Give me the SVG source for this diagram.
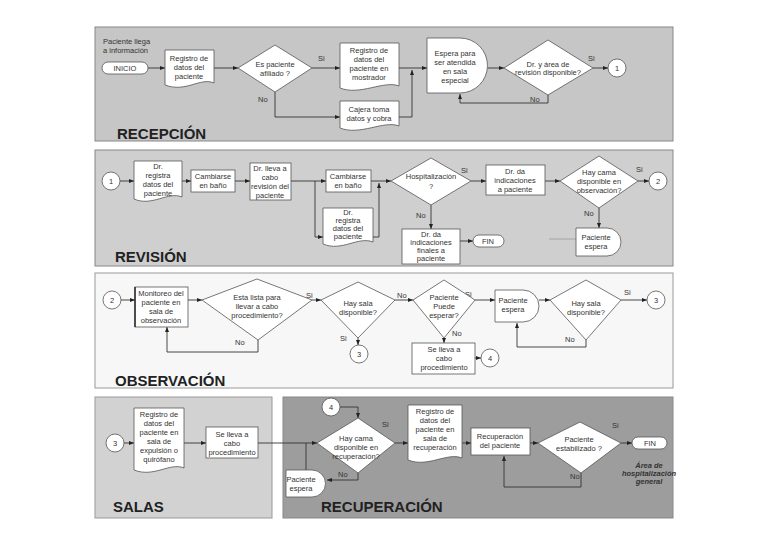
<svg xmlns="http://www.w3.org/2000/svg" width="768" height="543" viewBox="0 0 768 543">
<style>
.s{fill:#fff;stroke:#555;stroke-width:0.8}
.t{font-family:'Liberation Sans',Arial,sans-serif;font-size:7.5px;fill:#333;text-anchor:middle}
.l{font-family:'Liberation Sans',Arial,sans-serif;font-size:7.5px;fill:#333}
.h{font-family:'Liberation Sans',Arial,sans-serif;font-size:15px;font-weight:bold;fill:#222}
.c{fill:none;stroke:#333;stroke-width:0.9}
</style>
<defs><marker id="a" viewBox="0 0 10 10" refX="10" refY="5" markerWidth="6" markerHeight="6" orient="auto"><path d="M0,1 L10,5 L0,9 Z" fill="#222"/></marker></defs>
<rect width="768" height="543" fill="#fff"/>
<g id="bands">
<rect x="95" y="27" width="578" height="114" fill="#c6c6c6" stroke="#888"/>
<rect x="95" y="150" width="578" height="116" fill="#cfcfcf" stroke="#888"/>
<rect x="95" y="273" width="578" height="115" fill="#f7f7f7" stroke="#999"/>
<rect x="95" y="397" width="177" height="121" fill="#d2d2d2" stroke="#999"/>
<rect x="283" y="397" width="390" height="121" fill="#9d9d9d" stroke="#888"/>
<text class="h" x="117" y="139">RECEPCIÓN</text>
<text class="h" x="115" y="262">REVISIÓN</text>
<text class="h" x="115" y="386">OBSERVACIÓN</text>
<text class="h" x="113" y="512">SALAS</text>
<text class="h" x="321" y="512">RECUPERACIÓN</text>
</g>
<g id="connectors">
<path class="c" marker-end="url(#a)" d="M148,68H165"/>
<path class="c" marker-end="url(#a)" d="M214,68H238"/>
<path class="c" marker-end="url(#a)" d="M312,68H340"/>
<path class="c" marker-end="url(#a)" d="M275,92V117H340"/>
<path class="c" d="M399,68H412"/>
<path class="c" marker-end="url(#a)" d="M399,117H412V70"/>
<path class="c" marker-end="url(#a)" d="M412,68H427"/>
<path class="c" marker-end="url(#a)" d="M488,68H504"/>
<path class="c" marker-end="url(#a)" d="M593,68H608"/>
<path class="c" marker-end="url(#a)" d="M548,95V103H460V94"/>
<path class="c" marker-end="url(#a)" d="M120,181H134"/>
<path class="c" marker-end="url(#a)" d="M182,181H191"/>
<path class="c" marker-end="url(#a)" d="M235,181H250"/>
<path class="c" marker-end="url(#a)" d="M291,181H326"/>
<path class="c" marker-end="url(#a)" d="M315,181V237H323"/>
<path class="c" d="M371,181H379"/>
<path class="c" marker-end="url(#a)" d="M373,237H379V183"/>
<path class="c" marker-end="url(#a)" d="M379,181H391"/>
<path class="c" marker-end="url(#a)" d="M471,181H486"/>
<path class="c" marker-end="url(#a)" d="M545,181H560"/>
<path class="c" marker-end="url(#a)" d="M638,181H649"/>
<path class="c" marker-end="url(#a)" d="M599,208V228"/>
<path d="M549,239H576" stroke="#999" stroke-width="0.8"/>
<path class="c" marker-end="url(#a)" d="M431,205V229"/>
<path class="c" marker-end="url(#a)" d="M460,241H473"/>
<path class="c" marker-end="url(#a)" d="M121,300H135"/>
<path class="c" marker-end="url(#a)" d="M188,300H202"/>
<path class="c" marker-end="url(#a)" d="M312,300H321"/>
<path class="c" marker-end="url(#a)" d="M258,340V352H167V327"/>
<path class="c" marker-end="url(#a)" d="M358,338V345"/>
<path class="c" marker-end="url(#a)" d="M395,300H413"/>
<path class="c" marker-end="url(#a)" d="M475,300H495"/>
<path class="c" marker-end="url(#a)" d="M539,300H550"/>
<path class="c" marker-end="url(#a)" d="M621,300H647"/>
<path class="c" marker-end="url(#a)" d="M586,340V347H517V323"/>
<path class="c" marker-end="url(#a)" d="M444,338V343"/>
<path class="c" marker-end="url(#a)" d="M475,358H481"/>
<path class="c" marker-end="url(#a)" d="M124,443H134"/>
<path class="c" marker-end="url(#a)" d="M184,443H206"/>
<path class="c" marker-end="url(#a)" d="M258,443H317"/>
<path class="c" marker-end="url(#a)" d="M340,407H358V418"/>
<path class="c" marker-end="url(#a)" d="M395,443H408"/>
<path class="c" marker-end="url(#a)" d="M358,473V480H327"/>
<path class="c" d="M306,470V443"/>
<path class="c" marker-end="url(#a)" d="M462,443H471"/>
<path class="c" marker-end="url(#a)" d="M530,443H538"/>
<path class="c" marker-end="url(#a)" d="M621,443H632"/>
<path class="c" marker-end="url(#a)" d="M581,473V487H504V456"/>
</g>
<g id="labels">
<text class="l" x="103" y="44">Paciente llega</text><text class="l" x="103" y="53">a información</text>
<text class="l" x="318" y="61">Si</text><text class="l" x="258" y="102">No</text>
<text class="l" x="588" y="61">Si</text><text class="l" x="530" y="102">No</text>
<text class="l" x="461" y="173">Si</text><text class="l" x="416" y="218">No</text>
<text class="l" x="636" y="172">Si</text><text class="l" x="584" y="216">No</text>
<text class="l" x="306" y="298">Si</text><text class="l" x="235" y="345">No</text>
<text class="l" x="340" y="341">Si</text><text class="l" x="397" y="298">No</text>
<text class="l" x="465" y="297">Si</text><text class="l" x="452" y="336">No</text>
<text class="l" x="624" y="295">Si</text><text class="l" x="565" y="342">No</text>
<text class="l" x="382" y="427">Si</text><text class="l" x="338" y="477">No</text>
<text class="l" x="612" y="428">Si</text><text class="l" x="570" y="479">No</text>
<text class="t" x="649" y="468" font-weight="bold" font-style="italic">Área de</text>
<text class="t" x="649" y="476" font-weight="bold" font-style="italic">hospitalización</text>
<text class="t" x="649" y="484" font-weight="bold" font-style="italic">general</text>
</g>
<g id="inicio"><rect class="s" x="102" y="62" width="46" height="12" rx="6"/><text class="t" x="125" y="71">INICIO</text></g>
<g id="registro1"><path class="s" d="M165,50H214V83C200,77 186,93 165,85Z"/><text class="t" x="189" y="61">Registro de</text><text class="t" x="189" y="70">datos del</text><text class="t" x="189" y="79">paciente</text></g>
<g id="afiliado"><path class="s" d="M275,45L312,68L275,92L238,68Z"/><text class="t" x="275" y="67">Es paciente</text><text class="t" x="275" y="76">afiliado ?</text></g>
<g id="mostrador"><path class="s" d="M340,43H399V86C384,80 360,96 340,88Z"/><text class="t" x="369" y="53">Registro de</text><text class="t" x="369" y="62">datos del</text><text class="t" x="369" y="71">paciente en</text><text class="t" x="369" y="80">mostrador</text></g>
<g id="cajera"><path class="s" d="M340,101H399V126C384,120 360,136 340,128Z"/><text class="t" x="369" y="112">Cajera toma</text><text class="t" x="369" y="121">datos y cobra</text></g>
<g id="espera1"><path class="s" d="M427,38H460A27.5,27.5 0 0 1 460,93H427Z"/><text class="t" x="455" y="56">Espera para</text><text class="t" x="455" y="65">ser atendida</text><text class="t" x="455" y="74">en sala</text><text class="t" x="455" y="83">especial</text></g>
<g id="drarea"><path class="s" d="M548,40L593,68L548,95L504,68Z"/><text class="t" x="548" y="67" font-size="6.5">Dr. y área de</text><text class="t" x="548" y="75" font-size="6.5">revisión disponible?</text></g>
<g id="c1"><circle class="s" cx="617" cy="68" r="9"/><text class="t" x="617" y="71">1</text></g>
<g id="c1b"><circle class="s" cx="111" cy="181" r="9"/><text class="t" x="111" y="184">1</text></g>
<g id="drreg1"><path class="s" d="M134,161H182V197C168,191 152,207 134,199Z"/><text class="t" x="158" y="169">Dr.</text><text class="t" x="158" y="178">registra</text><text class="t" x="158" y="187">datos del</text><text class="t" x="158" y="196">paciente</text></g>
<g id="cambiarse1"><rect class="s" x="191" y="170" width="44" height="22"/><text class="t" x="213" y="179">Cambiarse</text><text class="t" x="213" y="188">en baño</text></g>
<g id="drlleva"><rect class="s" x="250" y="163" width="41" height="37"/><text class="t" x="270" y="171">Dr. lleva a</text><text class="t" x="270" y="180">cabo</text><text class="t" x="270" y="189">revisión del</text><text class="t" x="270" y="198">paciente</text></g>
<g id="cambiarse2"><rect class="s" x="326" y="170" width="45" height="22"/><text class="t" x="348" y="179">Cambiarse</text><text class="t" x="348" y="188">en baño</text></g>
<g id="drreg2"><path class="s" d="M323,208H373V242C358,236 342,252 323,244Z"/><text class="t" x="348" y="215">Dr.</text><text class="t" x="348" y="223">registra</text><text class="t" x="348" y="231">datos del</text><text class="t" x="348" y="239">paciente</text></g>
<g id="hosp"><path class="s" d="M431,158L471,181L431,205L391,181Z"/><text class="t" x="431" y="179">Hospitalización</text><text class="t" x="431" y="189">?</text></g>
<g id="drda"><rect class="s" x="486" y="165" width="59" height="30"/><text class="t" x="515" y="174">Dr. da</text><text class="t" x="515" y="183">indicaciones</text><text class="t" x="515" y="192">a paciente</text></g>
<g id="camaobs"><path class="s" d="M599,156L638,181L599,208L560,181Z"/><text class="t" x="599" y="175">Hay cama</text><text class="t" x="599" y="184">disponible en</text><text class="t" x="599" y="193">observación?</text></g>
<g id="c2"><circle class="s" cx="658" cy="181" r="9"/><text class="t" x="658" y="184">2</text></g>
<g id="espera2"><path class="s" d="M576,228H607A14,14 0 0 1 607,256H576Z"/><text class="t" x="596" y="240">Paciente</text><text class="t" x="596" y="249">espera</text></g>
<g id="drfinal"><rect class="s" x="402" y="229" width="58" height="35"/><text class="t" x="431" y="237">Dr. da</text><text class="t" x="431" y="245">indicaciones</text><text class="t" x="431" y="253">finales a</text><text class="t" x="431" y="261">paciente</text></g>
<g id="fin1"><rect class="s" x="473" y="235" width="31" height="12" rx="6"/><text class="t" x="488" y="244">FIN</text></g>
<g id="c2b"><circle class="s" cx="112" cy="300" r="9"/><text class="t" x="112" y="303">2</text></g>
<g id="monitoreo"><rect class="s" x="135" y="287" width="53" height="40"/><path d="M135,287V327" stroke="#333" stroke-width="1.6"/><text class="t" x="161" y="296">Monitoreo del</text><text class="t" x="161" y="305">paciente en</text><text class="t" x="161" y="314">sala de</text><text class="t" x="161" y="323">observación</text></g>
<g id="lista"><path class="s" d="M257,279L312,300L258,340L202,300Z"/><text class="t" x="257" y="300">Esta lista para</text><text class="t" x="257" y="309">llevar a cabo</text><text class="t" x="257" y="318">procedimiento?</text></g>
<g id="sala1"><path class="s" d="M358,282L395,300L358,338L321,300Z"/><text class="t" x="358" y="306">Hay sala</text><text class="t" x="358" y="315">disponible?</text></g>
<g id="c3a"><circle class="s" cx="359" cy="354" r="9"/><text class="t" x="359" y="357">3</text></g>
<g id="puede"><path class="s" d="M444,280L475,300L444,338L413,300Z"/><text class="t" x="444" y="300">Paciente</text><text class="t" x="444" y="309">Puede</text><text class="t" x="444" y="318">esperar?</text></g>
<g id="espera3"><path class="s" d="M495,290H523A16,16 0 0 1 523,322H495Z"/><text class="t" x="513" y="303">Paciente</text><text class="t" x="513" y="312">espera</text></g>
<g id="sala2"><path class="s" d="M586,280L621,300L586,340L550,300Z"/><text class="t" x="586" y="306">Hay sala</text><text class="t" x="586" y="315">disponible?</text></g>
<g id="c3b"><circle class="s" cx="656" cy="300" r="9"/><text class="t" x="656" y="303">3</text></g>
<g id="procobs"><rect class="s" x="412" y="343" width="63" height="31"/><text class="t" x="444" y="352">Se lleva a</text><text class="t" x="444" y="361">cabo</text><text class="t" x="444" y="370">procedimiento</text></g>
<g id="c4a"><circle class="s" cx="490" cy="358" r="9"/><text class="t" x="490" y="361">4</text></g>
<g id="c3c"><circle class="s" cx="115" cy="443" r="9"/><text class="t" x="115" y="446">3</text></g>
<g id="regsala"><path class="s" d="M134,408H184V468C170,462 154,478 134,470Z"/><text class="t" x="159" y="417">Registro de</text><text class="t" x="159" y="426">datos del</text><text class="t" x="159" y="435">paciente en</text><text class="t" x="159" y="444">sala de</text><text class="t" x="159" y="453">expulsión o</text><text class="t" x="159" y="462">quirófano</text></g>
<g id="procsala"><rect class="s" x="206" y="427" width="52" height="31"/><text class="t" x="232" y="437">Se lleva a</text><text class="t" x="232" y="446">cabo</text><text class="t" x="232" y="455">procedimiento</text></g>
<g id="c4b"><circle class="s" cx="331" cy="407" r="9"/><text class="t" x="331" y="410">4</text></g>
<g id="camarec"><path class="s" d="M358,418L395,443L358,473L317,443Z"/><text class="t" x="356" y="441">Hay cama</text><text class="t" x="356" y="450">disponible en</text><text class="t" x="356" y="459">recuperación?</text></g>
<g id="espera4"><path class="s" d="M286,470H312A13.5,13.5 0 0 1 312,497H286Z"/><text class="t" x="301" y="482">Paciente</text><text class="t" x="301" y="491">espera</text></g>
<g id="regrec"><path class="s" d="M408,405H462V458C447,452 428,468 408,460Z"/><text class="t" x="435" y="414">Registro de</text><text class="t" x="435" y="423">datos del</text><text class="t" x="435" y="432">paciente en</text><text class="t" x="435" y="441">sala de</text><text class="t" x="435" y="450">recuperación</text></g>
<g id="recup"><rect class="s" x="471" y="428" width="59" height="27"/><text class="t" x="500" y="439">Recuperación</text><text class="t" x="500" y="448">del paciente</text></g>
<g id="estab"><path class="s" d="M580,422L621,443L581,473L538,443Z"/><text class="t" x="579" y="442">Paciente</text><text class="t" x="579" y="451">estabilizado ?</text></g>
<g id="fin2"><rect class="s" x="632" y="437" width="35" height="12" rx="6"/><text class="t" x="650" y="446">FIN</text></g>
</svg>
